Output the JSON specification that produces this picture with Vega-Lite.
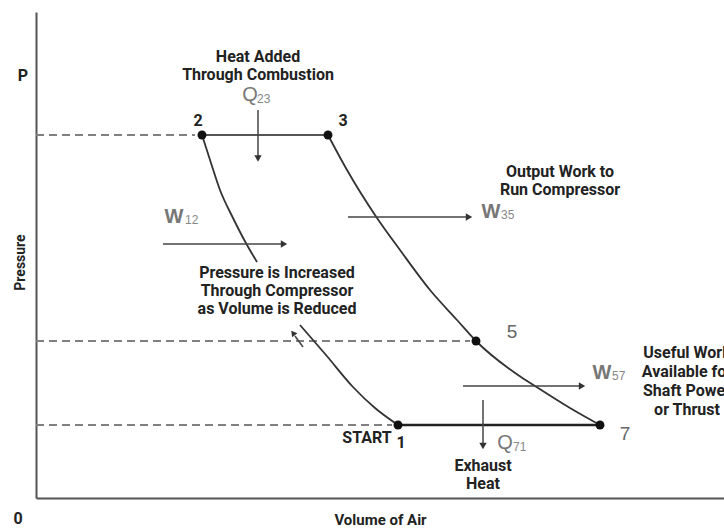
{
  "$schema": "https://vega.github.io/schema/vega-lite/v6.json",
  "width": 688,
  "height": 486,
  "padding": {"left": 36, "top": 12, "right": 0, "bottom": 31},
  "autosize": {"type": "none"},
  "background": "white",
  "config": {"view": {"stroke": null}},
  "datasets": {
    "dashed": [
      {"id": "a", "i": 0, "x": 0, "y": 363}, {"id": "a", "i": 1, "x": 159, "y": 363},
      {"id": "b", "i": 0, "x": 0, "y": 157}, {"id": "b", "i": 1, "x": 434, "y": 157},
      {"id": "c", "i": 0, "x": 0, "y": 73}, {"id": "c", "i": 1, "x": 356, "y": 73}
    ],
    "solid": [
      {"id": "top", "i": 0, "x": 166, "y": 363}, {"id": "top", "i": 1, "x": 292, "y": 363},
      {"id": "bottom", "i": 0, "x": 362, "y": 73}, {"id": "bottom", "i": 1, "x": 564, "y": 73}
    ],
    "curves": [
      {"id": "c12a", "i": 0, "x": 166, "y": 363}, {"id": "c12a", "i": 1, "x": 175, "y": 335},
      {"id": "c12a", "i": 2, "x": 184, "y": 308}, {"id": "c12a", "i": 3, "x": 197, "y": 280},
      {"id": "c12a", "i": 4, "x": 211, "y": 253}, {"id": "c12a", "i": 5, "x": 221, "y": 236},
      {"id": "c12b", "i": 0, "x": 264, "y": 173}, {"id": "c12b", "i": 1, "x": 290, "y": 143},
      {"id": "c12b", "i": 2, "x": 317, "y": 111}, {"id": "c12b", "i": 3, "x": 339, "y": 90},
      {"id": "c12b", "i": 4, "x": 362, "y": 73},
      {"id": "c37", "i": 0, "x": 292, "y": 363}, {"id": "c37", "i": 1, "x": 311, "y": 328},
      {"id": "c37", "i": 2, "x": 341, "y": 280}, {"id": "c37", "i": 3, "x": 364, "y": 248},
      {"id": "c37", "i": 4, "x": 394, "y": 208}, {"id": "c37", "i": 5, "x": 421, "y": 178},
      {"id": "c37", "i": 6, "x": 440, "y": 157}, {"id": "c37", "i": 7, "x": 482, "y": 123},
      {"id": "c37", "i": 8, "x": 499, "y": 112}, {"id": "c37", "i": 9, "x": 534, "y": 90},
      {"id": "c37", "i": 10, "x": 564, "y": 73}
    ],
    "arrows": [
      {"id": "q23", "i": 0, "x": 222, "y": 388}, {"id": "q23", "i": 1, "x": 222, "y": 341},
      {"id": "w12", "i": 0, "x": 127, "y": 254}, {"id": "w12", "i": 1, "x": 246, "y": 254},
      {"id": "w35", "i": 0, "x": 312, "y": 281}, {"id": "w35", "i": 1, "x": 431, "y": 281},
      {"id": "w57", "i": 0, "x": 427, "y": 112}, {"id": "w57", "i": 1, "x": 544, "y": 112},
      {"id": "q71", "i": 0, "x": 447, "y": 98}, {"id": "q71", "i": 1, "x": 447, "y": 54},
      {"id": "sm", "i": 0, "x": 267, "y": 151}, {"id": "sm", "i": 1, "x": 259, "y": 162}
    ],
    "heads": [
      {"dir": "down", "x": 222, "y": 339.5},
      {"dir": "right", "x": 248, "y": 254},
      {"dir": "right", "x": 433, "y": 281},
      {"dir": "right", "x": 546, "y": 112},
      {"dir": "down", "x": 447, "y": 52}
    ],
    "headsUL": [{"x": 257, "y": 165}],
    "states": [
      {"state": "1", "x": 362, "y": 73},
      {"state": "2", "x": 166, "y": 363},
      {"state": "3", "x": 292, "y": 363},
      {"state": "5", "x": 440, "y": 157},
      {"state": "7", "x": 564, "y": 73}
    ],
    "bold": [
      {"t": "Heat Added", "x": 222, "y": 441},
      {"t": "Through Combustion", "x": 222, "y": 423},
      {"t": "2", "x": 162, "y": 377},
      {"t": "3", "x": 307, "y": 377},
      {"t": "Output Work to", "x": 524, "y": 326},
      {"t": "Run Compressor", "x": 524, "y": 308},
      {"t": "Pressure is Increased", "x": 241, "y": 225},
      {"t": "Through Compressor", "x": 241, "y": 207},
      {"t": "as Volume is Reduced", "x": 241, "y": 189},
      {"t": "Useful Work", "x": 651, "y": 145},
      {"t": "Available for", "x": 651, "y": 126},
      {"t": "Shaft Power", "x": 651, "y": 107},
      {"t": "or Thrust", "x": 651, "y": 88},
      {"t": "START", "x": 331, "y": 60},
      {"t": "1", "x": 365, "y": 55},
      {"t": "Exhaust", "x": 447, "y": 32},
      {"t": "Heat", "x": 447, "y": 14},
      {"t": "P", "x": -13, "y": 422},
      {"t": "0", "x": -18, "y": -21}
    ],
    "qs": [
      {"t": "Q", "x": 214, "y": 403},
      {"t": "Q", "x": 469, "y": 55}
    ],
    "ws": [
      {"t": "W", "x": 138, "y": 281},
      {"t": "W", "x": 455, "y": 286},
      {"t": "W", "x": 566, "y": 125}
    ],
    "nums": [
      {"t": "5", "x": 476, "y": 166},
      {"t": "7", "x": 589, "y": 64}
    ],
    "subs": [
      {"t": "23", "x": 221, "y": 399},
      {"t": "12", "x": 149, "y": 278},
      {"t": "35", "x": 465, "y": 283},
      {"t": "57", "x": 576, "y": 122},
      {"t": "71", "x": 477, "y": 51}
    ]
  },
  "encoding": {
    "x": {
      "field": "x", "type": "quantitative",
      "scale": {"domain": [0, 688], "nice": false, "zero": false},
      "axis": {
        "title": "Volume of Air", "domain": true, "domainColor": "#555", "domainWidth": 2,
        "ticks": false, "labels": false, "grid": false,
        "titleFont": "Roboto", "titleFontWeight": "bold", "titleFontSize": 15,
        "titleColor": "#222", "titleY": 21, "titleBaseline": "middle"
      }
    },
    "y": {
      "field": "y", "type": "quantitative",
      "scale": {"domain": [0, 486], "nice": false, "zero": false},
      "axis": {
        "title": "Pressure", "domain": true, "domainColor": "#555", "domainWidth": 2,
        "ticks": false, "labels": false, "grid": false,
        "titleFont": "Roboto", "titleFontWeight": "bold", "titleFontSize": 14,
        "titleColor": "#222", "titleX": -16, "titleY": 250, "titleBaseline": "middle"
      }
    }
  },
  "layer": [
    {
      "data": {"name": "dashed"},
      "mark": {"type": "line", "color": "#808080", "strokeWidth": 2, "strokeDash": [8, 5]},
      "encoding": {"detail": {"field": "id"}, "order": {"field": "i"}}
    },
    {
      "data": {"name": "solid"},
      "transform": [{"filter": "datum.id === 'top'"}],
      "mark": {"type": "line", "color": "#555", "strokeWidth": 2},
      "encoding": {"detail": {"field": "id"}, "order": {"field": "i"}}
    },
    {
      "data": {"name": "solid"},
      "transform": [{"filter": "datum.id === 'bottom'"}],
      "mark": {"type": "line", "color": "#222", "strokeWidth": 2.6},
      "encoding": {"detail": {"field": "id"}, "order": {"field": "i"}}
    },
    {
      "data": {"name": "curves"},
      "mark": {"type": "line", "color": "#333", "strokeWidth": 1.8, "interpolate": "monotone"},
      "encoding": {"detail": {"field": "id"}, "order": {"field": "i"}}
    },
    {
      "data": {"name": "arrows"},
      "mark": {"type": "line", "color": "#444", "strokeWidth": 1.5},
      "encoding": {"detail": {"field": "id"}, "order": {"field": "i"}}
    },
    {
      "data": {"name": "heads"},
      "mark": {"type": "point", "filled": true, "color": "#333", "size": 55, "opacity": 1},
      "encoding": {
        "shape": {"field": "dir", "type": "nominal", "scale": {"domain": ["right", "down"], "range": ["triangle-right", "triangle-down"]}, "legend": null}
      }
    },
    {
      "data": {"name": "headsUL"},
      "mark": {"type": "point", "filled": true, "color": "#333", "size": 45, "opacity": 1, "shape": "triangle-up", "angle": 322}
    },
    {
      "data": {"name": "states"},
      "mark": {"type": "point", "filled": true, "color": "#111", "size": 80, "opacity": 1, "shape": "circle"}
    },
    {
      "data": {"name": "bold"},
      "mark": {"type": "text", "font": "Roboto", "fontWeight": "bold", "fontSize": 16, "color": "#222", "align": "center", "baseline": "middle"},
      "encoding": {"text": {"field": "t"}}
    },
    {
      "data": {"name": "qs"},
      "mark": {"type": "text", "font": "Liberation Sans", "fontSize": 20, "color": "#777", "align": "center", "baseline": "middle"},
      "encoding": {"text": {"field": "t"}}
    },
    {
      "data": {"name": "ws"},
      "mark": {"type": "text", "font": "Liberation Sans", "fontWeight": "bold", "fontSize": 20, "color": "#777", "align": "center", "baseline": "middle"},
      "encoding": {"text": {"field": "t"}}
    },
    {
      "data": {"name": "nums"},
      "mark": {"type": "text", "font": "Liberation Sans", "fontSize": 19, "color": "#666", "align": "center", "baseline": "middle"},
      "encoding": {"text": {"field": "t"}}
    },
    {
      "data": {"name": "subs"},
      "mark": {"type": "text", "font": "Liberation Sans", "fontSize": 12, "color": "#888", "align": "left", "baseline": "middle"},
      "encoding": {"text": {"field": "t"}}
    }
  ]
}
